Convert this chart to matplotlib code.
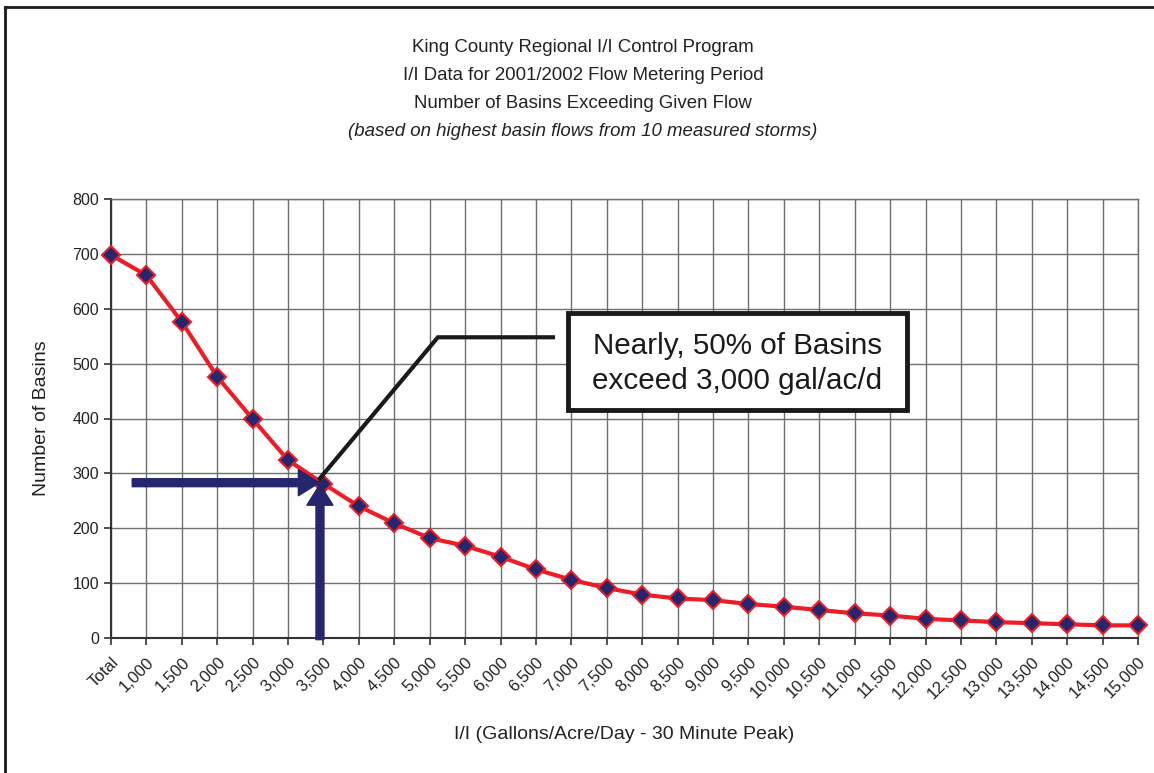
import matplotlib
matplotlib.use("Agg")
import matplotlib.pyplot as plt
from matplotlib.patches import FancyArrowPatch, Rectangle
from matplotlib.lines import Line2D

plt.rcParams['font.family'] = ['Liberation Sans', 'DejaVu Sans']

# categories (flow thresholds) and number of basins exceeding them
categories = ['Total', '1,000', '1,500', '2,000', '2,500', '3,000', '3,500', '4,000',
              '4,500', '5,000', '5,500', '6,000', '6,500', '7,000', '7,500', '8,000',
              '8,500', '9,000', '9,500', '10,000', '10,500', '11,000', '11,500',
              '12,000', '12,500', '13,000', '13,500', '14,000', '14,500', '15,000']
basins = [698, 661, 576, 476, 399, 324, 281, 240, 209, 182, 168, 148, 125, 106,
          91, 79, 72, 69, 62, 57, 51, 45, 41, 35, 32, 29, 27, 25, 23, 23]
y_ticks = [0, 100, 200, 300, 400, 500, 600, 700, 800]

title_lines = ['King County Regional I/I Control Program',
               'I/I Data for 2001/2002 Flow Metering Period',
               'Number of Basins Exceeding Given Flow']
subtitle = '(based on highest basin flows from 10 measured storms)'
callout = 'Nearly, 50% of Basins\nexceed 3,000 gal/ac/d'

navy = '#26266e'
red = '#ee1c24'
grid_c = '#6e6e6e'

fig = plt.figure(figsize=(11.54, 7.73), dpi=100)
ax = fig.add_axes([111/1154, 1 - 638/773, (1138 - 111)/1154, (638 - 199)/773])

x = list(range(len(categories)))
ax.plot(x, basins, color=red, lw=3, zorder=5, marker='D', markersize=9.5,
        markerfacecolor=navy, markeredgecolor=red, markeredgewidth=1.5, clip_on=False)

ax.set_xlim(0, len(categories) - 1)
ax.set_ylim(0, 800)
ax.set_xticks(x)
ax.set_xticklabels(categories, rotation=45, ha='right', rotation_mode='anchor',
                   fontsize=12, color='#222222')
ax.set_yticks(y_ticks)
ax.set_yticklabels([str(v) for v in y_ticks], fontsize=11.5, color='#222222')
ax.tick_params(axis='both', direction='out', length=5, width=1.2, color='#333333')
ax.tick_params(axis='x', pad=7)

ax.grid(True, color=grid_c, lw=1, zorder=0)
ax.set_axisbelow(True)
for side in ['top', 'right']:
    ax.spines[side].set_color(grid_c)
    ax.spines[side].set_linewidth(1)
for side in ['left', 'bottom']:
    ax.spines[side].set_color('#333333')
    ax.spines[side].set_linewidth(1.5)

ax.set_ylabel('Number of Basins', fontsize=14, color='#222222', labelpad=16)
ax.set_xlabel('I/I (Gallons/Acre/Day - 30 Minute Peak)', fontsize=14,
              color='#222222', labelpad=18)

# title block
for i, line in enumerate(title_lines):
    fig.text(583/1154, 1 - (47 + 28*i)/773, line, ha='center', va='center',
             fontsize=13.4, color='#222222')
fig.text(583/1154, 1 - 131/773, subtitle, ha='center', va='center',
         fontsize=13.4, style='italic', color='#222222')

# navy arrows pointing at the 3,500 point
arrow_style = 'simple,head_length=1.0,head_width=1.25,tail_width=0.38'
ax.add_patch(FancyArrowPatch((0.6, 283), (5.88, 283), arrowstyle=arrow_style,
                             mutation_scale=15, color=navy, zorder=6, clip_on=False,
                             shrinkA=0, shrinkB=0))
ax.add_patch(FancyArrowPatch((5.9, -3), (5.9, 280), arrowstyle=arrow_style,
                             mutation_scale=15, color=navy, zorder=6, clip_on=False,
                             shrinkA=0, shrinkB=0))

# callout leader line
ax.plot([5.9, 9.23, 12.48], [291, 548, 548], color='#1a1a1a', lw=3, zorder=6,
        solid_joinstyle='miter')

# callout box
ax.add_patch(Rectangle((12.9, 415), 22.48 - 12.9, 592 - 415, facecolor='white',
                       edgecolor='#1a1a1a', lw=3.5, zorder=7))
ax.text((12.9 + 22.48)/2, 500, callout, ha='center', va='center', fontsize=21.3,
        color='#1a1a1a', zorder=8, linespacing=1.3)

# outer frame (left and top edges visible)
fig.add_artist(Line2D([5/1154, 5/1154], [0, 1 - 7/773], color='#1a1a1a', lw=2))
fig.add_artist(Line2D([5/1154, 1], [1 - 7/773, 1 - 7/773], color='#1a1a1a', lw=2))

fig.savefig('out.png', dpi=100)
